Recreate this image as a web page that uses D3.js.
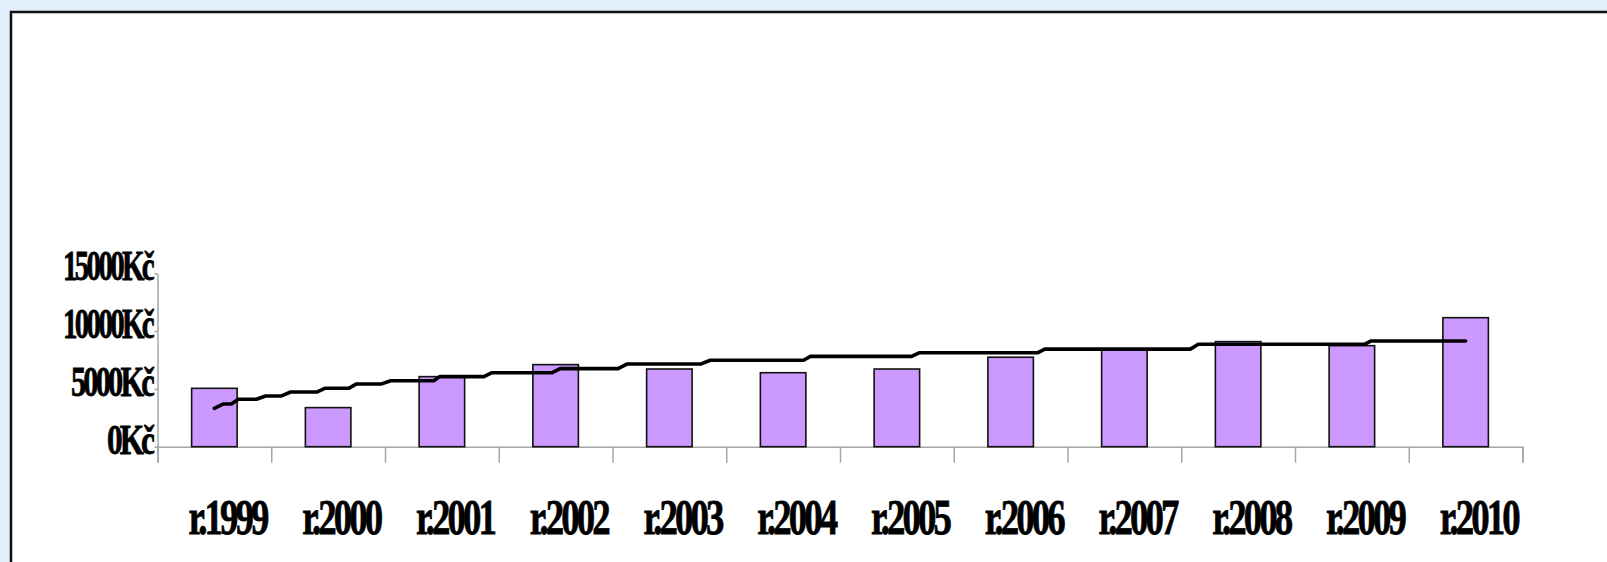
<!DOCTYPE html>
<html>
<head>
<meta charset="utf-8">
<script src="https://cdn.jsdelivr.net/npm/d3@7"></script>
<style>
  body { margin: 0; background: #e1eefc; }
  svg { display: block; }
</style>
</head>
<body>
<svg id="chart" width="1607" height="562"></svg>
<script>
// yearly amounts (bars) and the stepped trend line
const years = ["r.1999", "r.2000", "r.2001", "r.2002", "r.2003", "r.2004",
               "r.2005", "r.2006", "r.2007", "r.2008", "r.2009", "r.2010"];
const amounts = [5050, 3380, 6060, 7100, 6720, 6400, 6720, 7740, 8370, 9090, 8740, 11160];

// trend: position in category units (0 = first year centre) and value
const trend_pos = [0, 0.08, 0.15, 0.21, 0.37, 0.45, 0.59, 0.67, 0.90, 0.97, 1.18, 1.25, 1.47,
                   1.55, 1.93, 1.98, 2.37, 2.44, 2.97, 3.04, 3.55, 3.63, 4.28, 4.36, 5.18,
                   5.24, 6.13, 6.20, 7.24, 7.30, 8.58, 8.65, 10.11, 10.17, 11];
const trend_vals = [3320, 3700, 3700, 4100, 4100, 4390, 4390, 4730, 4730, 5050, 5050, 5430, 5430,
                    5710, 5710, 6060, 6060, 6400, 6400, 6750, 6750, 7160, 7160, 7480, 7480,
                    7810, 7810, 8130, 8130, 8440, 8440, 8860, 8860, 9150, 9150];

const y_ticks = [0, 5000, 10000, 15000];
const y_label_width = {0: 45, 5000: 81, 10000: 89, 15000: 89};

const svg = d3.select("#chart");

// white panel with the dark frame on the top and left
svg.append("rect")
  .attr("x", 11).attr("y", 12)
  .attr("width", 1650).attr("height", 600)
  .style("fill", "white")
  .style("stroke", "#111")
  .style("stroke-width", 2.5);

const plot = {left: 157.5, right: 1522.5, top: 273.3, bottom: 446.7};

const x_band = d3.scaleBand()
  .domain(years)
  .range([plot.left, plot.right])
  .padding(0);
const bw = x_band.bandwidth();

const x_edge = d3.scaleLinear()
  .domain([0, years.length])
  .range([plot.left, plot.right]);

const x_pos = d3.scaleLinear()
  .domain([0, years.length - 1])
  .range([plot.left + bw / 2, plot.right - bw / 2]);

const y_scale = d3.scaleLinear()
  .domain([0, 15000])
  .range([plot.bottom, plot.top]);

const axis_color = "#a6a6a6";

// x axis with ticks on the category boundaries
const x_axis = svg.append("g")
  .attr("transform", `translate(0, ${plot.bottom})`)
  .call(d3.axisBottom(x_edge).tickValues(d3.range(0, years.length + 1)).tickSize(16).tickFormat(""));
x_axis.select(".domain").attr("stroke", axis_color).attr("stroke-width", 1.5);
x_axis.selectAll(".tick line").attr("stroke", axis_color).attr("stroke-width", 1.5);

// y axis
const y_axis = svg.append("g")
  .attr("transform", `translate(${plot.left}, 0)`)
  .call(d3.axisLeft(y_scale).tickValues(y_ticks).tickSize(3).tickSizeOuter(0).tickFormat(""));
y_axis.select(".domain").attr("stroke", axis_color).attr("stroke-width", 1.5);
y_axis.selectAll(".tick line").attr("stroke", axis_color).attr("stroke-width", 1.5);

// bars
svg.append("g").selectAll("rect")
  .data(amounts)
  .join("rect")
  .attr("x", (d, i) => x_band(years[i]) + bw * 0.3)
  .attr("y", d => y_scale(d))
  .attr("width", bw * 0.4)
  .attr("height", d => plot.bottom - y_scale(d))
  .style("fill", "#cc99ff")
  .style("stroke", "#111")
  .style("stroke-width", 1.6);

// trend line
const line = d3.line()
  .x((d, i) => x_pos(trend_pos[i]))
  .y(d => y_scale(d));

svg.append("path")
  .attr("d", line(trend_vals))
  .style("fill", "none")
  .style("stroke", "#000")
  .style("stroke-width", 3.6)
  .style("stroke-linecap", "round")
  .style("stroke-linejoin", "round");

// y tick labels
svg.append("g").selectAll("text")
  .data(y_ticks)
  .join("text")
  .attr("x", 152)
  .attr("y", d => y_scale(d) + 7)
  .attr("text-anchor", "end")
  .attr("textLength", d => y_label_width[d])
  .attr("lengthAdjust", "spacingAndGlyphs")
  .style("font-family", "'Liberation Serif', 'DejaVu Serif', serif")
  .style("font-weight", "bold")
  .style("font-size", "43px")
  .style("letter-spacing", "-4px")
  .style("stroke", "#000")
  .style("stroke-width", 0.8)
  .text(d => d + "Kč");

// x category labels
svg.append("g").selectAll("text")
  .data(years)
  .join("text")
  .attr("x", d => x_band(d) + bw / 2 + 13)
  .attr("y", 534)
  .attr("text-anchor", "middle")
  .attr("textLength", 78)
  .attr("lengthAdjust", "spacingAndGlyphs")
  .style("font-family", "'Liberation Serif', 'DejaVu Serif', serif")
  .style("font-weight", "bold")
  .style("font-size", "50px")
  .style("letter-spacing", "-4px")
  .style("stroke", "#000")
  .style("stroke-width", 0.8)
  .text(d => d);
</script>
</body>
</html>
